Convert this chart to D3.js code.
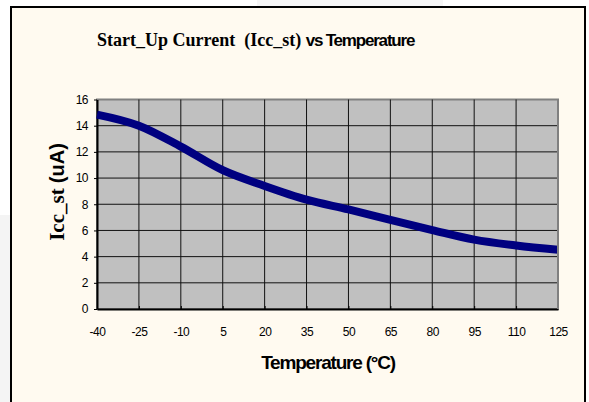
<!DOCTYPE html>
<html>
<head>
<meta charset="utf-8">
<script src="https://cdn.jsdelivr.net/npm/d3@7"></script>
<style>
  body { margin: 0; background: #fff; }
  svg { display: block; }
</style>
</head>
<body>
<div id="chart"></div>
<script>
// values
const temps = [-40, -25, -10, 5, 20, 35, 50, 65, 80, 95, 110, 125];
const iccSt = [14.85, 14.0, 12.4, 10.6, 9.4, 8.35, 7.6, 6.8, 6.03, 5.3, 4.85, 4.52];
const yTicks = [0, 2, 4, 6, 8, 10, 12, 14, 16];

const W = 589, H = 402;
const plot = { left: 97, right: 558, top: 99.5, bottom: 309 };

const svg = d3.select("#chart").append("svg")
    .attr("width", W)
    .attr("height", H);

// page background bits outside the frame
svg.append("rect").attr("x", 0).attr("y", 215).attr("width", 11).attr("height", H - 215).attr("fill", "#f4f4f4");
svg.append("rect").attr("x", 257).attr("y", 0).attr("width", 186).attr("height", 7).attr("fill", "#f6f6f6");

// chart frame
svg.append("rect")
    .attr("x", 11).attr("y", 7)
    .attr("width", 574).attr("height", H)
    .attr("fill", "#fffaf0")
    .attr("stroke", "#000")
    .attr("stroke-width", 2);

// scales
const x = d3.scaleLinear().domain([-40, 125]).range([plot.left, plot.right]);
const y = d3.scaleLinear().domain([0, 16]).range([plot.bottom, plot.top]);

// plot area
svg.append("rect")
    .attr("x", plot.left).attr("y", plot.top)
    .attr("width", plot.right - plot.left).attr("height", plot.bottom - plot.top)
    .attr("fill", "#c0c0c0")
    .attr("stroke", "#808080")
    .attr("stroke-width", 2);

// gridlines
svg.append("g")
    .selectAll("line")
    .data(temps.slice(1, -1))
    .enter().append("line")
    .attr("x1", d => x(d)).attr("x2", d => x(d))
    .attr("y1", plot.top).attr("y2", plot.bottom)
    .attr("stroke", "#111")
    .attr("stroke-width", 1);

svg.append("g")
    .selectAll("line")
    .data(yTicks.slice(1, -1))
    .enter().append("line")
    .attr("x1", plot.left).attr("x2", plot.right)
    .attr("y1", d => y(d)).attr("y2", d => y(d))
    .attr("stroke", "#111")
    .attr("stroke-width", 1);

// axes (plain hyphen minus in labels)
const fmt = d => String(d);

const xAxis = svg.append("g")
    .attr("transform", `translate(0,${plot.bottom})`)
    .call(d3.axisBottom(x).tickValues(temps).tickFormat(fmt).tickSize(3).tickPadding(15).tickSizeOuter(0));

const yAxis = svg.append("g")
    .attr("transform", `translate(${plot.left},0)`)
    .call(d3.axisLeft(y).tickValues(yTicks).tickFormat(fmt).tickSize(3).tickPadding(6).tickSizeOuter(0));

[xAxis, yAxis].forEach(g => {
    g.select(".domain").attr("stroke", "#000").attr("stroke-width", 2);
    g.selectAll(".tick line").attr("stroke", "#000");
    g.selectAll("text")
        .attr("fill", "#000")
        .style("font-family", "Liberation Sans, Arial, sans-serif")
        .style("font-size", "12px")
        .style("letter-spacing", "-0.5px");
});
xAxis.selectAll(".tick line").attr("transform", "translate(0,-3)");

// data line
const line = d3.line()
    .x((d, i) => x(temps[i]))
    .y(d => y(d))
    .curve(d3.curveMonotoneX);

svg.append("path")
    .datum(iccSt)
    .attr("d", line)
    .attr("fill", "none")
    .attr("stroke", "#000080")
    .attr("stroke-width", 8)
    .attr("stroke-linecap", "butt");

// redraw right edge over the line end
svg.append("line")
    .attr("x1", plot.right).attr("x2", plot.right)
    .attr("y1", plot.top).attr("y2", plot.bottom)
    .attr("stroke", "#808080").attr("stroke-width", 2);

// title
const title = svg.append("text")
    .attr("x", 97).attr("y", 46)
    .attr("fill", "#000");
title.append("tspan")
    .style("font-family", "Liberation Serif, Times New Roman, serif")
    .style("font-weight", "bold")
    .style("font-size", "18px")
    .text("Start_Up Current\u00a0\u00a0(Icc_st) ");
title.append("tspan")
    .style("font-family", "Liberation Sans, Arial, sans-serif")
    .style("font-weight", "bold")
    .style("font-size", "17px")
    .style("letter-spacing", "-1.2px")
    .text("vs Temperature");

// x axis title
svg.append("text")
    .attr("x", 328).attr("y", 369)
    .attr("text-anchor", "middle")
    .style("font-family", "Liberation Sans, Arial, sans-serif")
    .style("font-weight", "bold")
    .style("font-size", "19px")
    .style("letter-spacing", "-1.2px")
    .text("Temperature (\u00b0C)");

// y axis title
const yTitle = svg.append("text")
    .attr("transform", "translate(64,192) rotate(-90)")
    .attr("text-anchor", "middle");
yTitle.append("tspan")
    .style("font-family", "Liberation Serif, Times New Roman, serif")
    .style("font-weight", "bold")
    .style("font-size", "21px")
    .text("Icc_st ");
yTitle.append("tspan")
    .style("font-family", "Liberation Sans, Arial, sans-serif")
    .style("font-weight", "bold")
    .style("font-size", "20px")
    .text("(uA)");
</script>
</body>
</html>
